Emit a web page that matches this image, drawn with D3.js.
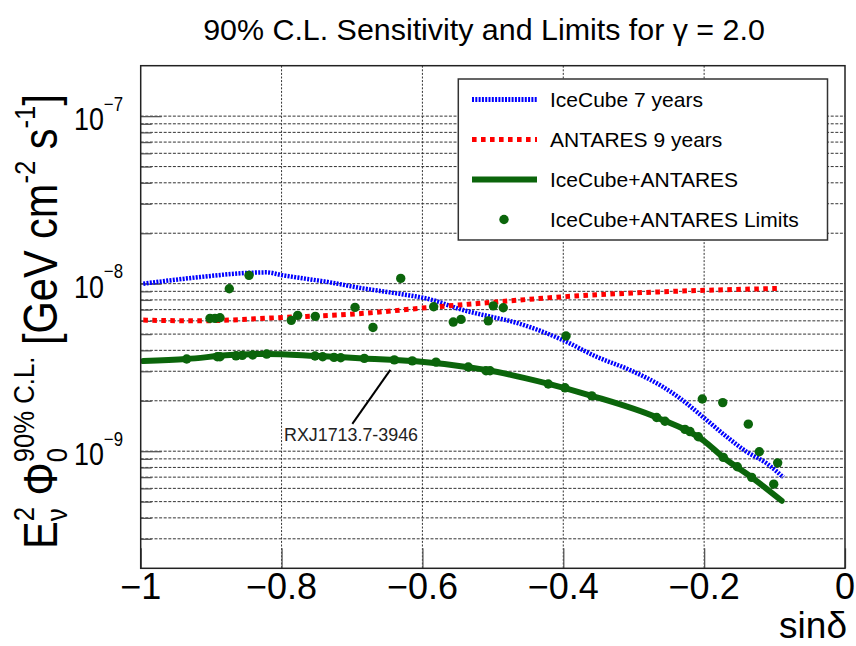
<!DOCTYPE html>
<html>
<head>
<meta charset="utf-8">
<script src="https://cdn.jsdelivr.net/npm/d3@7"></script>
<style>
  html, body { margin: 0; padding: 0; background: #fff; }
  svg { display: block; }
  text { font-family: "Liberation Sans", Arial, Helvetica, sans-serif; fill: #000; }
</style>
</head>
<body>
<svg id="chart" width="856" height="646"></svg>
<script>
// ---- data -------------------------------------------------------------
// IceCube 7-year sensitivity vs sin(declination)
const icecubeSinDec = [-0.9963,-0.9158,-0.8477,-0.8211,-0.7998,-0.7312,-0.6844,-0.6365,-0.5892,-0.5424,-0.5087,-0.4714,-0.4004,-0.3526,-0.3053,-0.2584,-0.2343,-0.2016,-0.1680,-0.1396,-0.1112,-0.0876];
const icecubeFlux   = [1.00e-8,1.095e-8,1.16e-8,1.168e-8,1.125e-8,1.018e-8,9.37e-9,8.75e-9,8.06e-9,6.96e-9,6.43e-9,5.92e-9,4.60e-9,3.66e-9,3.05e-9,2.42e-9,2.07e-9,1.60e-9,1.22e-9,9.92e-10,8.46e-10,6.98e-10];

// ANTARES 9-year sensitivity
const antaresSinDec = [-0.9963,-0.9205,-0.8069,-0.6839,-0.5892,-0.5087,-0.4004,-0.2584,-0.0923];
const antaresFlux   = [6.06e-9,6.00e-9,6.26e-9,6.65e-9,7.22e-9,7.69e-9,8.35e-9,8.95e-9,9.37e-9];

// Combined IceCube+ANTARES sensitivity
const combinedSinDec = [-0.9963,-0.9347,-0.8732,-0.8211,-0.7525,-0.6839,-0.6129,-0.5324,-0.5087,-0.4235,-0.3596,-0.2674,-0.2012,-0.1728,-0.1325,-0.0899];
const combinedFlux   = [3.45e-9,3.55e-9,3.75e-9,3.81e-9,3.71e-9,3.58e-9,3.45e-9,3.16e-9,3.05e-9,2.54e-9,2.14e-9,1.59e-9,1.16e-9,9.18e-10,6.98e-10,5.06e-10];

// Combined upper limits for the individual sources
const limitSinDec = [-0.9347,-0.9016,-0.8945,-0.8912,-0.8874,-0.8874,-0.8742,-0.8647,-0.8558,-0.8462,-0.8410,-0.8211,-0.7862,-0.7771,-0.7525,-0.7521,-0.7416,-0.7255,-0.7160,-0.6957,-0.6825,-0.6702,-0.6399,-0.6308,-0.6144,-0.5840,-0.5807,-0.5562,-0.5452,-0.5349,-0.5097,-0.5065,-0.5040,-0.4994,-0.4852,-0.4213,-0.3976,-0.3961,-0.3596,-0.2674,-0.2556,-0.2272,-0.2201,-0.2083,-0.2026,-0.1736,-0.1728,-0.1529,-0.1373,-0.1325,-0.1217,-0.1012,-0.0956];
const limitFlux   = [3.55e-9,6.21e-9,6.21e-9,3.66e-9,3.66e-9,6.26e-9,9.32e-9,3.71e-9,3.73e-9,1.121e-8,3.75e-9,3.80e-9,6.04e-9,6.47e-9,3.70e-9,6.38e-9,3.66e-9,3.63e-9,3.61e-9,7.22e-9,3.58e-9,5.48e-9,3.51e-9,1.075e-8,3.46e-9,7.28e-9,3.40e-9,5.90e-9,6.12e-9,3.18e-9,3.02e-9,6.00e-9,3.02e-9,7.37e-9,7.18e-9,2.52e-9,2.39e-9,4.87e-9,2.14e-9,1.59e-9,1.51e-9,1.35e-9,1.31e-9,1.22e-9,2.05e-9,1.95e-9,9.18e-10,8.07e-10,1.45e-9,6.98e-10,9.92e-10,6.36e-10,8.52e-10];

// Labelled source
const sourceName = "RXJ1713.7-3946";
const sourceSinDec = -0.6399;
const sourceFlux = 3.51e-9;

// Axis ticks and labels
const xTickValues = [-1, -0.8, -0.6, -0.4, -0.2, 0];
const xTickLabels = ["\u22121", "\u22120.8", "\u22120.6", "\u22120.4", "\u22120.2", "0"];
const yTickExponents = [-9, -8, -7];
const yDomain = [2e-10, 2e-7];

const legendLabels = ["IceCube 7 years", "ANTARES 9 years", "IceCube+ANTARES", "IceCube+ANTARES Limits"];

// ---- layout -----------------------------------------------------------
const svg = d3.select("#chart");
const plot = { left: 140.7, right: 845, top: 65.7, bottom: 568.3 };

const x = d3.scaleLinear().domain([-1, 0]).range([plot.left, plot.right]);
const y = d3.scaleLog().domain(yDomain).range([plot.bottom, plot.top]);

const colors = { icecube: "#0000ff", antares: "#ff0000", combined: "#0b650b", grid: "#333" };

// ---- grid -------------------------------------------------------------
const gridVals = [];
for (let e = -10; e <= -7; e++) {
  for (let k = 1; k <= 9; k++) {
    const v = k * Math.pow(10, e);
    if (v > yDomain[0] * 1.001 && v < yDomain[1] * 0.999) gridVals.push(v);
  }
}
const grid = svg.append("g");
grid.selectAll("line.h").data(gridVals).join("line")
  .attr("x1", plot.left).attr("x2", plot.right)
  .attr("y1", d => y(d)).attr("y2", d => y(d))
  .attr("stroke", colors.grid).attr("stroke-width", 1)
  .attr("stroke-dasharray", "3,1.6");
grid.selectAll("line.v").data(xTickValues.slice(1, -1)).join("line")
  .attr("x1", d => x(d)).attr("x2", d => x(d))
  .attr("y1", plot.top).attr("y2", plot.bottom)
  .attr("stroke", colors.grid).attr("stroke-width", 1)
  .attr("stroke-dasharray", "2,1.6");

// ---- tick marks via d3 axes --------------------------------------------
const majorY = yTickExponents.map(e => Math.pow(10, e));
const minorY = gridVals.filter(v => !majorY.includes(v));
const axY = svg.append("g").attr("transform", `translate(${plot.left},0)`);
axY.append("g").call(d3.axisLeft(y).tickValues(majorY).tickSize(-21).tickFormat(""));
axY.append("g").call(d3.axisLeft(y).tickValues(minorY).tickSize(-11).tickFormat(""));
axY.selectAll(".domain").remove();
axY.selectAll(".tick line").attr("stroke", "#555").attr("stroke-width", 1.3);

const axX = svg.append("g").attr("transform", `translate(0,${plot.bottom})`)
  .call(d3.axisBottom(x).tickValues(xTickValues).tickSize(-20).tickFormat(""));
axX.selectAll(".domain").remove();
axX.selectAll(".tick line").attr("stroke", "#555").attr("stroke-width", 1.3);

// ---- curves -----------------------------------------------------------
const line = d3.line().x(d => x(d[0])).y(d => y(d[1])).curve(d3.curveMonotoneX);
const plotArea = svg.append("g");

plotArea.append("path")
  .attr("d", line(d3.zip(icecubeSinDec, icecubeFlux)))
  .attr("fill", "none").attr("stroke", colors.icecube)
  .attr("stroke-width", 4.5).attr("stroke-dasharray", "2,1.3");

plotArea.append("path")
  .attr("d", line(d3.zip(antaresSinDec, antaresFlux)))
  .attr("fill", "none").attr("stroke", colors.antares)
  .attr("stroke-width", 5).attr("stroke-dasharray", "4.6,4.4");

plotArea.append("path")
  .attr("d", line(d3.zip(combinedSinDec, combinedFlux)))
  .attr("fill", "none").attr("stroke", colors.combined)
  .attr("stroke-width", 6).attr("stroke-linecap", "round");

plotArea.selectAll("circle.lim").data(d3.zip(limitSinDec, limitFlux)).join("circle")
  .attr("cx", d => x(d[0])).attr("cy", d => y(d[1])).attr("r", 4.7)
  .attr("fill", colors.combined);

// ---- source annotation -------------------------------------------------
const sx = x(sourceSinDec), sy = y(sourceFlux);
svg.append("line")
  .attr("x1", sx - 4).attr("y1", sy + 10)
  .attr("x2", sx - 42).attr("y2", sy + 64)
  .attr("stroke", "#000").attr("stroke-width", 2);
svg.append("text")
  .attr("x", sx - 43.3).attr("y", sy + 81.3)
  .attr("text-anchor", "middle")
  .attr("textLength", 134).attr("lengthAdjust", "spacingAndGlyphs")
  .style("font-size", "19px").style("fill", "#222")
  .text(sourceName);

// ---- frame ------------------------------------------------------------
svg.append("rect")
  .attr("x", plot.left).attr("y", plot.top)
  .attr("width", plot.right - plot.left).attr("height", plot.bottom - plot.top)
  .attr("fill", "none").attr("stroke", "#222").attr("stroke-width", 1.5);

// ---- axis labels ------------------------------------------------------
svg.append("g").selectAll("text").data(xTickValues).join("text")
  .attr("x", d => x(d)).attr("y", 599.3)
  .attr("text-anchor", "middle").style("font-size", "36px")
  .text((d, i) => xTickLabels[i]);

// decade labels, slightly condensed horizontally
const yl = svg.append("g").selectAll("text").data(yTickExponents).join("text")
  .attr("transform", d => `translate(123,${y(Math.pow(10, d)) + 14}) scale(0.84,1)`)
  .attr("text-anchor", "end");
yl.append("tspan").style("font-size", "32px").text("10");
yl.append("tspan").style("font-size", "20px").attr("dy", -19.5)
  .text(d => "\u2212" + Math.abs(d));

svg.append("text")
  .attr("x", 847).attr("y", 638).attr("text-anchor", "end")
  .style("font-size", "37px").text("sin\u03b4");

// rotated flux title
const F = 48;
const yTitle = svg.append("text").attr("text-anchor", "middle").style("font-size", F + "px");
function measure(str, size) {
  const t = svg.append("text").style("font-size", size + "px").text(str);
  const w = t.node().getComputedTextLength();
  t.remove();
  return w;
}
const s = 0.62 * F;
const subDy = 0.2 * F, supDy = 0.48 * F;
yTitle.append("tspan").text("E");
yTitle.append("tspan").style("font-size", s + "px").attr("dy", subDy).text("\u03bd");
yTitle.append("tspan").style("font-size", s + "px").attr("dx", -measure("\u03bd", s)).attr("dy", -(subDy + supDy)).text("2");
yTitle.append("tspan").attr("dy", supDy).text("\u00a0\u03a6");
yTitle.append("tspan").style("font-size", s + "px").attr("dy", subDy).text("0");
yTitle.append("tspan").style("font-size", s + "px").attr("dx", -measure("0", s)).attr("dy", -(subDy + supDy)).text("90% C.L.");
yTitle.append("tspan").attr("dy", supDy).text("\u00a0[GeV cm");
yTitle.append("tspan").style("font-size", s + "px").attr("dy", -0.45 * F).text("-2");
yTitle.append("tspan").attr("dy", 0.45 * F).text("\u00a0s");
yTitle.append("tspan").style("font-size", s + "px").attr("dy", -0.45 * F).text("-1");
yTitle.append("tspan").attr("dy", 0.45 * F).text("]");
const titleLen = yTitle.node().getBBox().width;
const squeeze = 455 / titleLen;
yTitle.attr("transform", `translate(57,321.5) rotate(-90) scale(${squeeze},1)`);

// chart title
svg.append("text")
  .attr("x", 484).attr("y", 39.5).attr("text-anchor", "middle")
  .style("font-size", "30.4px")
  .text("90% C.L. Sensitivity and Limits for \u03b3 = 2.0");

// ---- legend -----------------------------------------------------------
const legend = svg.append("g");
legend.append("rect")
  .attr("x", 458.3).attr("y", 79).attr("width", 369.2).attr("height", 161)
  .attr("fill", "#fff").attr("stroke", "#333").attr("stroke-width", 1.5);
const rowY = i => 99.5 + 40 * i;
legend.append("line").attr("x1", 472).attr("x2", 537).attr("y1", rowY(0)).attr("y2", rowY(0))
  .attr("stroke", colors.icecube).attr("stroke-width", 5).attr("stroke-dasharray", "2,1.3");
legend.append("line").attr("x1", 472).attr("x2", 537).attr("y1", rowY(1)).attr("y2", rowY(1))
  .attr("stroke", colors.antares).attr("stroke-width", 5).attr("stroke-dasharray", "4.6,4.4");
legend.append("line").attr("x1", 472).attr("x2", 537).attr("y1", rowY(2)).attr("y2", rowY(2))
  .attr("stroke", colors.combined).attr("stroke-width", 6);
legend.append("circle").attr("cx", 504).attr("cy", rowY(3)).attr("r", 4.7).attr("fill", colors.combined);
legend.selectAll("text").data(legendLabels).join("text")
  .attr("x", 550).attr("y", (d, i) => rowY(i) + 7.5)
  .style("font-size", "21px").text(d => d);
</script>
</body>
</html>
